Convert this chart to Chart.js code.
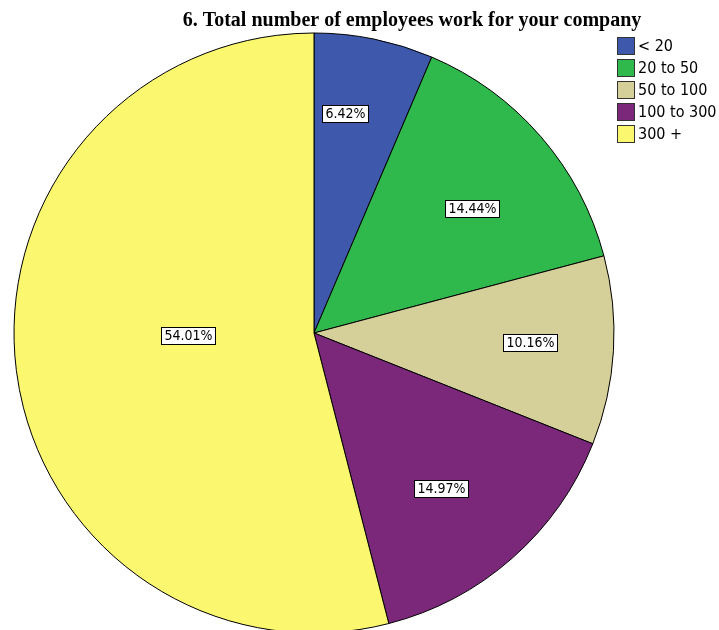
<!DOCTYPE html>
<html>
<head>
<meta charset="utf-8">
<script src="https://cdn.jsdelivr.net/npm/chart.js@4.4.1/dist/chart.umd.min.js"></script>
<style>
  html, body { margin: 0; padding: 0; background: #ffffff; }
  #wrap { width: 719px; height: 630px; position: relative; }
</style>
</head>
<body>
<div id="wrap"><canvas id="pieChart" width="719" height="630"></canvas></div>
<script>
const titleText = '6. Total number of employees work for your company';
const categories = ['< 20', '20 to 50', '50 to 100', '100 to 300', '300 +'];
const percents = [6.42, 14.44, 10.16, 14.97, 54.01];
const sliceColors = ['#3e58ac', '#2fb84b', '#d5cf99', '#7b287b', '#fbf86f'];

// where each value box sits inside its slice
const labelRadius = [0.74, 0.67, 0.72, 0.67, 0.42];
const labelNudgeDeg = [-3.6, 2.8, -0.8, 2.2, 6.2];

const extras = {
  id: 'extras',
  afterDatasetsDraw(chart) {
    const ctx = chart.ctx;
    const arcs = chart.getDatasetMeta(0).data;

    // value boxes
    ctx.save();
    ctx.font = '14px "DejaVu Sans Condensed"';
    ctx.textAlign = 'center';
    ctx.textBaseline = 'middle';
    arcs.forEach((arc, i) => {
      const p = arc.getProps(['x', 'y', 'startAngle', 'endAngle', 'outerRadius'], true);
      const a = (p.startAngle + p.endAngle) / 2 + labelNudgeDeg[i] * Math.PI / 180;
      const r = p.outerRadius * labelRadius[i];
      const x = p.x + Math.cos(a) * r;
      const y = p.y + Math.sin(a) * r;
      const txt = percents[i].toFixed(2) + '%';
      const w = Math.round(ctx.measureText(txt).width) + 6;
      const h = 17;
      const bx = Math.round(x - w / 2) + 0.5;
      const by = Math.round(y - h / 2) + 0.5;
      ctx.fillStyle = '#ffffff';
      ctx.fillRect(bx, by, w, h);
      ctx.strokeStyle = '#000000';
      ctx.lineWidth = 1;
      ctx.strokeRect(bx, by, w, h);
      ctx.fillStyle = '#000000';
      ctx.fillText(txt, bx + w / 2, by + h / 2 + 0.5);
    });
    ctx.restore();

    // title
    ctx.save();
    ctx.font = 'bold 20px "Liberation Serif"';
    ctx.fillStyle = '#000000';
    ctx.textAlign = 'center';
    ctx.textBaseline = 'alphabetic';
    ctx.fillText(titleText, 412, 26);
    ctx.restore();

    // legend
    ctx.save();
    ctx.font = '16px "DejaVu Sans Condensed"';
    ctx.textBaseline = 'middle';
    categories.forEach((c, i) => {
      const y = 37 + i * 22;
      ctx.fillStyle = sliceColors[i];
      ctx.fillRect(617.5, y + 0.5, 17, 17);
      ctx.strokeStyle = '#333333';
      ctx.lineWidth = 1;
      ctx.strokeRect(617.5, y + 0.5, 17, 17);
      ctx.fillStyle = '#000000';
      ctx.fillText(c, 638, y + 9.5);
    });
    ctx.restore();
  }
};

new Chart(document.getElementById('pieChart'), {
  type: 'pie',
  data: {
    labels: categories,
    datasets: [{
      data: percents,
      backgroundColor: sliceColors,
      borderColor: '#000000',
      borderWidth: 1
    }]
  },
  options: {
    responsive: false,
    animation: false,
    radius: 300,
    layout: { padding: { left: 14, right: 105, top: 36, bottom: 0 } },
    plugins: {
      legend: { display: false },
      title: { display: false },
      tooltip: { enabled: false }
    }
  },
  plugins: [extras]
});
</script>
</body>
</html>
